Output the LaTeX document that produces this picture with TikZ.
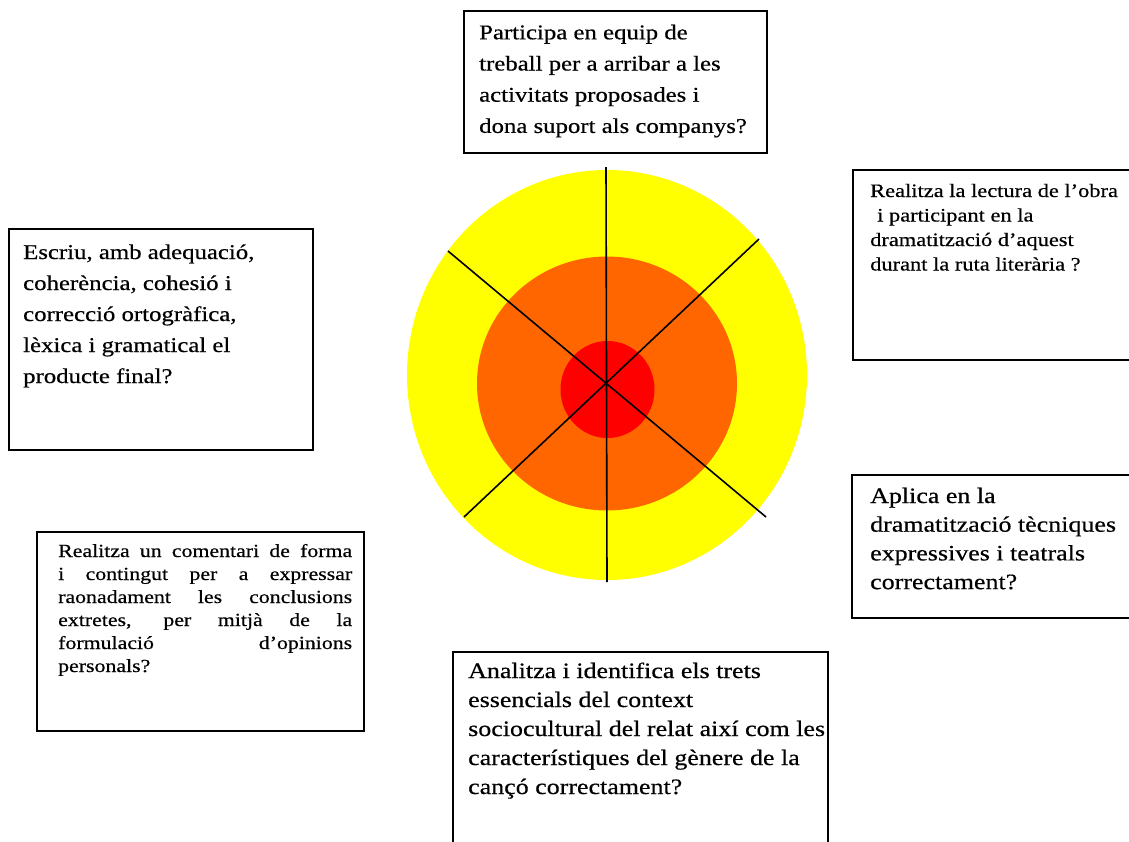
\documentclass[tikz,border=0pt]{standalone}
\usepackage{fontspec}
\setmainfont{Liberation Serif}[FakeStretch=1.18,FakeBold=0.5]
\definecolor{ringY}{HTML}{FFFF00}
\definecolor{ringO}{HTML}{FF6600}
\definecolor{ringR}{HTML}{FF0000}
\tikzset{
  qbox/.style={draw=black, line width=1.6pt, fill=white},
  qtext/.style={anchor=base west, inner sep=0pt, align=left},
  spoke/.style={draw=black, line width=1.6pt},
}
\begin{document}
\begin{tikzpicture}[x=1pt,y=-1pt]
\useasboundingbox (0,0) rectangle (1129,841);
% target
\fill[ringY] (607,375) ellipse [x radius=200, y radius=205];
\fill[ringO] (607,383.5) ellipse [x radius=130, y radius=127];
\fill[ringR] (607.5,389.5) ellipse [x radius=47, y radius=48.5];
\coordinate (c) at (606,383);
\coordinate (vt) at (606,167);
\coordinate (vb) at (607,582);
\coordinate (d1a) at (448,251);
\coordinate (d1b) at (766,517);
\coordinate (d2a) at (759,239);
\coordinate (d2b) at (464,517);
\draw[spoke] (vt) -- (vb);
\draw[spoke] (d1a) -- (d1b);
\draw[spoke] (d2a) -- (d2b);
% boxes
\draw[qbox] (464,11) rectangle (767,153);
\node[qtext] (tq) at (479,39.3) {\parbox[t]{280pt}{\fontsize{21}{31.2}\selectfont\raggedright
Participa en equip de\\
treball per a arribar a les\\
activitats proposades i\\
dona suport als companys?}};

\draw[qbox] (853,170) rectangle (1135,360);
\node[qtext] (rq) at (870,197) {\parbox[t]{270pt}{\fontsize{19}{24.5}\selectfont\raggedright
Realitza la lectura de l’obra\\
\hspace*{7pt}i participant en la\\
dramatització d’aquest\\
durant la ruta literària ?}};

\draw[qbox] (9,229) rectangle (313,450);
\node[qtext] (lq) at (23,259) {\parbox[t]{285pt}{\fontsize{21}{31}\selectfont\raggedright
Escriu, amb adequació,\\
coherència, cohesió i\\
correcció ortogràfica,\\
lèxica i gramatical el\\
producte final?}};

\draw[qbox] (852,475) rectangle (1135,618);
\node[qtext] (aq) at (870,503) {\parbox[t]{270pt}{\fontsize{22}{28.7}\selectfont\raggedright
Aplica en la\\
dramatització tècniques\\
expressives i teatrals\\
correctament?}};

\draw[qbox] (37,532) rectangle (364,731);
\node[qtext] (bl) at (58,557) {\parbox[t]{294pt}{\fontsize{18.5}{23}\selectfont
\makebox[294pt][s]{Realitza un comentari de forma}\\
\makebox[294pt][s]{i contingut per a expressar}\\
\makebox[294pt][s]{raonadament les conclusions}\\
\makebox[294pt][s]{extretes, per mitjà de la}\\
\makebox[294pt][s]{formulació d’opinions}\\
personals?}};

\draw[qbox] (453,652) rectangle (828,860);
\node[qtext] (bq) at (468,678) {\parbox[t]{360pt}{\fontsize{22}{29}\selectfont\raggedright
Analitza i identifica els trets\\
essencials del context\\
sociocultural del relat així com les\\
característiques del gènere de la\\
cançó correctament?}};
\end{tikzpicture}
\end{document}
